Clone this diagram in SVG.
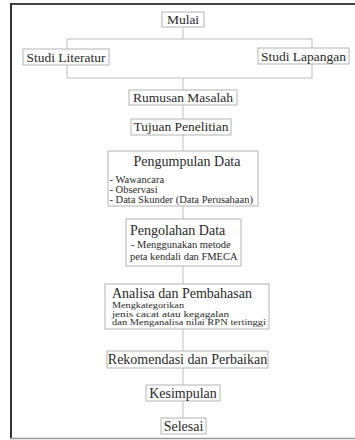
<svg xmlns="http://www.w3.org/2000/svg" width="355" height="440" viewBox="0 0 355 440">
<style>
.box{fill:#fff;stroke:#b4b4b4;stroke-width:1}
.lbl{font-family:"Liberation Serif","Times New Roman",serif;fill:#2a2a2a}
.t13{font-size:13.5px}
.t14{font-size:14px}
.s11{font-size:10.5px}
.s9{font-size:8.6px}
.mid{text-anchor:middle}
.conn{fill:none;stroke:#bdbdbd;stroke-width:1}
</style>
<rect width="355" height="440" fill="#fff"/>
<g id="frame">
<line x1="10" y1="4" x2="355" y2="4" stroke="#444" stroke-width="2"/>
<line x1="11" y1="3" x2="11" y2="439" stroke="#333" stroke-width="2"/>
<line x1="10" y1="438.5" x2="355" y2="438.5" stroke="#9a9a9a" stroke-width="1.5"/>
</g>
<g id="connectors">
<line class="conn" x1="183" y1="27" x2="183" y2="39"/>
<rect class="conn" x="67" y="39" width="245" height="39"/>
<line class="conn" x1="183" y1="78" x2="183" y2="418"/>
</g>
<g id="mulai">
<rect class="box" x="162" y="12" width="42" height="15"/>
<text class="lbl t13 mid" x="183" y="24">Mulai</text>
</g>
<g id="studi-literatur">
<rect class="box" x="23" y="49" width="86" height="16"/>
<text class="lbl t13 mid" x="66" y="61.5">Studi Literatur</text>
</g>
<g id="studi-lapangan">
<rect class="box" x="258" y="48" width="91" height="16"/>
<text class="lbl t13 mid" x="303.5" y="60.5">Studi Lapangan</text>
</g>
<g id="rumusan-masalah">
<rect class="box" x="129" y="90" width="108" height="15"/>
<text class="lbl t13 mid" x="183" y="102">Rumusan Masalah</text>
</g>
<g id="tujuan-penelitian">
<rect class="box" x="131" y="119" width="100" height="16"/>
<text class="lbl t13 mid" x="181" y="131">Tujuan Penelitian</text>
</g>
<g id="pengumpulan-data">
<rect class="box" x="108" y="151" width="150" height="55"/>
<text class="lbl t14 mid" x="187" y="166">Pengumpulan Data</text>
<text class="lbl s11" x="109.5" y="183">- Wawancara</text>
<text class="lbl s11" x="109.5" y="193">- Observasi</text>
<text class="lbl s11" x="109.5" y="203">- Data Skunder (Data Perusahaan)</text>
</g>
<g id="pengolahan-data">
<rect class="box" x="126" y="219" width="115" height="47"/>
<text class="lbl t14" x="130" y="235">Pengolahan Data</text>
<text class="lbl s11" x="131" y="248">- Menggunakan metode</text>
<text class="lbl s11" x="130" y="260">peta kendali dan FMECA</text>
</g>
<g id="analisa-pembahasan">
<rect class="box" x="105" y="284" width="164" height="45"/>
<text class="lbl t14" x="112" y="297.5">Analisa dan Pembahasan</text>
<text class="lbl s9" x="112" y="308" textLength="72" lengthAdjust="spacingAndGlyphs">Mengkategorikan</text>
<text class="lbl s9" x="112" y="316.5" textLength="117" lengthAdjust="spacingAndGlyphs">jenis cacat atau kegagalan</text>
<text class="lbl s9" x="112" y="325" textLength="154" lengthAdjust="spacingAndGlyphs">dan Menganalisa nilai RPN tertinggi</text>
</g>
<g id="rekomendasi-perbaikan">
<rect class="box" x="107" y="351" width="161" height="17"/>
<text class="lbl t14 mid" x="187.5" y="364">Rekomendasi dan Perbaikan</text>
</g>
<g id="kesimpulan">
<rect class="box" x="146" y="385" width="74" height="16"/>
<text class="lbl t14 mid" x="183" y="397.5">Kesimpulan</text>
</g>
<g id="selesai">
<rect class="box" x="161" y="418" width="45" height="16"/>
<text class="lbl t14 mid" x="183.5" y="430.5">Selesai</text>
</g>
</svg>
